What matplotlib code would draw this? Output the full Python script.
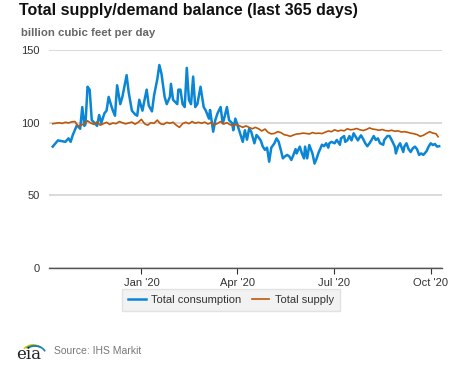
import matplotlib
matplotlib.use("Agg")
import matplotlib.pyplot as plt
from matplotlib.patches import Arc
import pandas as pd

start_date = "2019-10-09"

# consumption: (days since start, bcf/d)
cons_days = [0, 5, 8, 12, 15, 17, 19, 23, 26, 28, 30, 31, 33, 35, 37, 40, 42, 44, 46, 49,
             51, 53, 55, 57, 59, 61, 64, 66, 70, 72, 75, 78, 80, 82, 85, 87, 89, 91, 94, 96,
             99, 101, 103, 106, 108, 111, 112, 114, 118, 119, 121, 123, 125, 127, 129, 131, 133, 135, 137, 140,
             143, 145, 148, 149, 152, 154, 156, 159, 161, 162, 165, 167, 170, 171, 173, 177, 180, 182, 184, 186,
             188, 191, 193, 195, 197, 199, 201, 203, 205, 207, 210, 212, 214, 216, 218, 220, 222, 224, 226, 228,
             230, 231, 234, 236, 238, 239, 241, 243, 246, 248, 250, 252, 253, 255, 257, 259, 261, 262, 264, 267,
             269, 272, 273, 276, 277, 279, 281, 283, 285, 287, 289, 291, 292, 294, 296, 298, 300, 302, 304, 306,
             308, 310, 313, 314, 317, 319, 321, 324, 325, 327, 329, 332, 333, 335, 337, 339, 341, 343, 345, 347,
             349, 351, 354, 356, 358, 360, 362, 364, 366]
cons_vals = [83.7, 88, 87.6, 87, 89.4, 87, 91.7, 98.6, 96, 111, 98, 99, 125, 123, 102, 99.8, 98, 105.5, 100, 106.7,
             108.5, 118, 113, 108.5, 105, 126, 113, 118, 133, 121, 108.5, 106, 105, 116, 108.5, 116, 123, 112, 108, 119,
             130, 140, 134, 118, 113, 118, 127, 116, 113, 123, 123, 113, 111, 138, 116, 113, 132, 111, 113, 125,
             111, 108.5, 103, 109, 94, 102, 106.5, 111, 99.8, 102, 111, 102, 99.8, 95, 103, 94, 87, 95, 88.5, 96,
             94, 86, 91.7, 90, 88, 83.7, 81.5, 83, 73.3, 83, 86, 89.4, 87, 81.5, 75.6, 77, 78, 77, 74.5, 78,
             82, 79, 83.7, 79, 75.6, 83.7, 75.6, 84.8, 79, 72, 75.6, 80, 81.5, 85, 84, 86, 83, 86, 87, 86,
             88.3, 85, 89.4, 91, 87, 88, 91, 88, 92.9, 90.5, 88, 90.5, 91.5, 89, 86, 84, 86, 88.3, 91, 88.3,
             89.4, 86, 85, 88.3, 91, 91, 88.3, 83.7, 79, 83.7, 86, 80, 83.7, 86, 82, 80, 82.5, 83.7, 82, 78,
             79, 78, 80.5, 83.7, 86, 84.8, 85.5, 83.7, 84]

# supply: (days since start, bcf/d)
sup_days = list(range(0, 364, 3)) + [365]
sup_vals = [99.5, 99.8, 100.2, 99.7, 100.5, 100, 100.8, 101, 97.8, 98.5,
            99.5, 101.5, 100, 99, 100.8, 98.5, 99.5, 100.5, 99, 100,
            99.5, 101, 100.2, 99.4, 100, 100.6, 99.2, 100.5, 102.5, 99.5,
            98.5, 100.2, 99.8, 102, 99.5, 99, 100.4, 99.8, 100.5, 98.5,
            97, 99.5, 100.5, 99.5, 101, 99.8, 100.5, 99.8, 100.6, 99.3,
            100.2, 98.6, 99.7, 101, 99.3, 100.2, 98.8, 98, 99.2, 98,
            97, 98, 97, 96, 97, 96, 94.5, 95.8, 93.5, 92.5,
            92.8, 94, 93.4, 92, 91.5, 90.8, 91.7, 92.4, 92.6, 93,
            92.8, 92.4, 93.4, 92.8, 93, 92.7, 93.6, 94.5, 94, 95.3,
            94.4, 95, 94.6, 96, 95.3, 95.6, 96.2, 95.3, 94.8, 95.5,
            96.6, 95.8, 95.5, 95, 95.5, 94.8, 94.5, 95, 94.3, 94.6,
            93.8, 94, 93.6, 93, 92.6, 92, 90.8, 91.5, 92.8, 94,
            93, 92.6, 90.5]

tick_dates = ["2020-01-01", "2020-04-01", "2020-07-01", "2020-10-01"]
tick_labels = ["Jan '20", "Apr '20", "Jul '20", "Oct '20"]
y_ticks = [0, 50, 100, 150]


def to_dates(days):
    return pd.Timestamp(start_date) + pd.to_timedelta(days, unit="D")


plt.rcParams['font.family'] = ['Liberation Sans', 'DejaVu Sans']

fig = plt.figure(figsize=(4.77, 3.67), dpi=100)
ax = fig.add_axes([0.1034, 0.2698, 0.8226, 0.5926])

ax.plot(to_dates(cons_days), cons_vals, color="#0a86d4", lw=1.8, label="Total consumption",
        solid_joinstyle="round", zorder=3)
ax.plot(to_dates(sup_days), sup_vals, color="#bf5709", lw=1.2, label="Total supply", zorder=4)

ax.set_ylim(0, 150)
ax.set_xlim(pd.Timestamp(start_date) - pd.Timedelta(days=3.2),
            pd.Timestamp(start_date) + pd.Timedelta(days=368.4))
ax.set_yticks(y_ticks)
ax.set_xticks(pd.to_datetime(tick_dates))
ax.set_xticklabels(tick_labels)
ax.grid(axis="y", color="#d0d0d0", lw=1.1)
ax.set_axisbelow(True)
for s in ["top", "right", "left"]:
    ax.spines[s].set_visible(False)
ax.spines["bottom"].set_color("#555555")
ax.spines["bottom"].set_linewidth(1.0)
ax.tick_params(axis="y", length=0, pad=7, labelsize=8, labelcolor="#333333")
ax.tick_params(axis="x", length=4, width=0.8, color="#333333", pad=3,
               labelsize=8, labelcolor="#333333")

fig.text(19 / 477, 1 - 11 / 367, "Total supply/demand balance (last 365 days)",
         fontsize=11.5, fontweight="bold", color="#111111", va="center", ha="left")
fig.text(21 / 477, 1 - 33 / 367, "billion cubic feet per day",
         fontsize=8.2, fontweight="bold", color="#666666", va="center", ha="left")

leg = fig.legend(loc="center", bbox_to_anchor=(231 / 477, 1 - 300 / 367), ncol=2,
                 fontsize=8, frameon=True, handlelength=1.6, handletextpad=0.5,
                 columnspacing=0.9, borderpad=0.55, fancybox=False)
leg.get_frame().set_facecolor("#efefef")
leg.get_frame().set_edgecolor("#dddddd")
for t in leg.get_texts():
    t.set_color("#333333")

# eia logo
lax = fig.add_axes([14 / 477, 1 - 362 / 367, 32 / 477, 26 / 367])
lax.set_xlim(0, 32)
lax.set_ylim(0, 26)
lax.axis("off")
lax.text(15, 3, "eia", family="DejaVu Serif", fontsize=12, color="#222222",
         ha="center", va="baseline")
lax.add_patch(Arc((19, 8), 22, 18, theta1=50, theta2=150, color="#f2c200", lw=1.2))
lax.add_patch(Arc((20, 7.5), 22, 18, theta1=45, theta2=140, color="#5aa832", lw=1.2))
lax.add_patch(Arc((21, 7), 22, 18, theta1=20, theta2=130, color="#1a7cc1", lw=1.2))

fig.text(54 / 477, 1 - 351 / 367, "Source: IHS Markit", fontsize=7.5, color="#777777",
         va="center", ha="left")

fig.savefig("out.png", dpi=100)
